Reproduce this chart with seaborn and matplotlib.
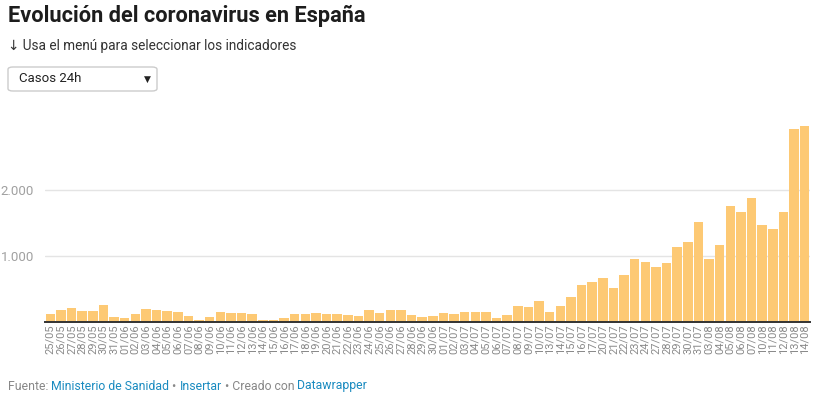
import matplotlib
matplotlib.use("Agg")
import matplotlib.pyplot as plt
import seaborn as sns
import pandas as pd
from matplotlib.patches import FancyBboxPatch

# ---- data ----
fechas = (
    ["25/05", "26/05", "27/05", "28/05", "29/05", "30/05", "31/05"]
    + [f"{d:02d}/06" for d in range(1, 31)]
    + [f"{d:02d}/07" for d in range(1, 11)]
    + ["13/07", "14/07", "15/07", "16/07", "17/07",
       "20/07", "21/07", "22/07", "23/07", "24/07",
       "27/07", "28/07", "29/07", "30/07", "31/07",
       "03/08", "04/08", "05/08", "06/08", "07/08",
       "10/08", "11/08", "12/08", "13/08", "14/08"]
)
casos_mayo = [126, 187, 217, 172, 172, 263, 81]
casos_junio = [66, 126, 202, 187, 172, 157, 96, 35, 81, 157,
               141, 141, 126, 35, 35, 66, 126, 126, 141, 126,
               126, 111, 96, 187, 141, 187, 187, 111, 81, 96]
casos_julio_1 = [141, 126, 157, 157, 157, 66, 111, 247, 232, 323]
casos_resto = [155, 245, 380, 561, 606,
               667, 515, 712, 955, 909,
               833, 894, 1136, 1212, 1515,
               955, 1167, 1758, 1667, 1879,
               1470, 1409, 1667, 2924, 2970]
casos = casos_mayo + casos_junio + casos_julio_1 + casos_resto
y_ticks = [1000, 2000]
y_tick_labels = ["1.000", "2.000"]

df = pd.DataFrame({"fecha": fechas, "casos": casos})

sns.set_theme(style="white")
plt.rcParams["font.family"] = ["Roboto", "DejaVu Sans"]

W, H = 834, 396
fig = plt.figure(figsize=(W / 100, H / 100), dpi=100)
ax = fig.add_axes([45 / W, 1 - 322 / H, (810 - 45) / W, (322 - 124) / H])

sns.barplot(data=df, x="fecha", y="casos", order=fechas, color="#fdc974",
            saturation=1, width=0.9, linewidth=0, ax=ax)

ax.set_xlim(-0.5, len(fechas) - 0.5)
ax.set_ylim(0, 3000)
ax.set_yticks(y_ticks)
ax.set_yticklabels(y_tick_labels)
ax.set_xlabel("")
ax.set_ylabel("")
ax.grid(axis="y", color="#e4e4e4", linewidth=1)
ax.set_axisbelow(True)
for s in ["top", "right", "left"]:
    ax.spines[s].set_visible(False)
ax.spines["bottom"].set_color("#333333")
ax.spines["bottom"].set_linewidth(1.4)
ax.tick_params(axis="y", length=0, pad=8, labelsize=9.5, labelcolor="#a0a0a0")
ax.tick_params(axis="x", length=0, pad=2, labelsize=8, labelcolor="#8a8a8a",
               rotation=90)

# ---- header ----
fig.text(8 / W, 1 - 16 / H, "Evolución del coronavirus en España",
         fontsize=15.7, fontweight="bold", color="#1d1d1d", va="center", ha="left")
fig.text(8 / W, 1 - 46 / H, "↓ Usa el menú para seleccionar los indicadores",
         fontsize=9.8, color="#333333", va="center", ha="left")

box = FancyBboxPatch((8 / W, 1 - 91 / H), (157 - 8) / W, 24 / H,
                     boxstyle="round,pad=0,rounding_size=0.006",
                     transform=fig.transFigure, facecolor="white",
                     edgecolor="#cccccc", linewidth=1)
fig.patches.append(box)
fig.text(19 / W, 1 - 79 / H, "Casos 24h", fontsize=9.5, color="#222222",
         va="center", ha="left")
fig.text(147 / W, 1 - 79 / H, "▼", fontsize=6.5, color="#222222",
         va="center", ha="center", family=["DejaVu Sans"])

# ---- footer ----
parts = [("Fuente: ", "#888888"), ("Ministerio de Sanidad", "#1a8bc0"),
         (" • ", "#888888"), ("Insertar", "#1a8bc0"),
         (" • Creado con ", "#888888"), ("Datawrapper", "#1a8bc0")]
fig.canvas.draw()
renderer = fig.canvas.get_renderer()
x = 8
for txt, col in parts:
    t = fig.text(x / W, 1 - 386 / H, txt, fontsize=8.8, color=col,
                 va="center", ha="left")
    bb = t.get_window_extent(renderer=renderer)
    x += bb.width

fig.savefig("out.png", dpi=100)
